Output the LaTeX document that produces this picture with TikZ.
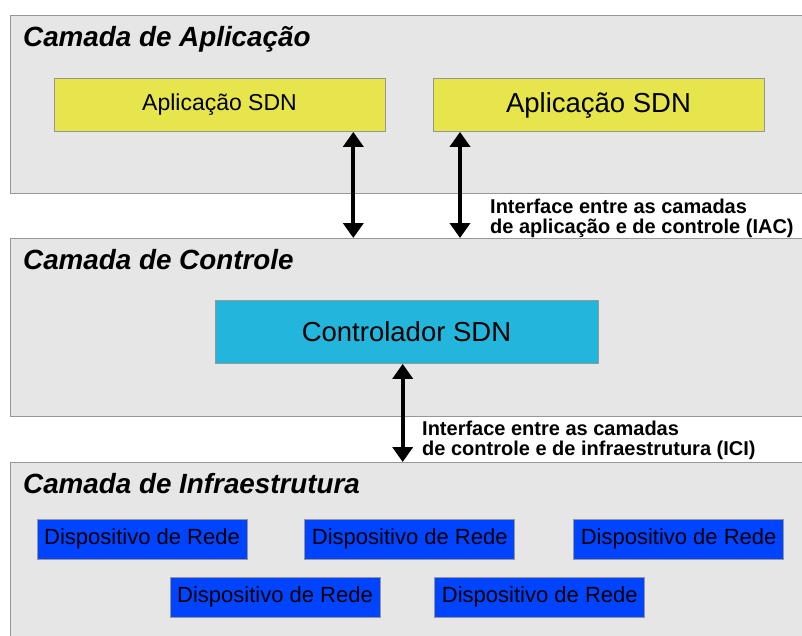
\documentclass[tikz,border=0pt]{standalone}
\usepackage{fontspec}
\setmainfont{Liberation Sans}
\usetikzlibrary{arrows.meta, positioning}
\usepackage{xcolor}
\definecolor{layerGray}{RGB}{230,230,230}
\definecolor{edgeGray} {RGB}{150,150,150}
\definecolor{appYellow}{RGB}{230,230,76}
\definecolor{ctrlCyan} {RGB}{35,182,220}
\definecolor{devBlue}  {RGB}{0,68,255}

\begin{document}
\begin{tikzpicture}[
  x=1pt, y=-1pt,
  node distance = 18pt and 57pt,
  layer/.style = {
    rectangle, anchor=north west, inner sep=0pt,
    draw=edgeGray, fill=layerGray, line width=1pt,
    minimum width=830pt
  },
  layertitle/.style = {
    anchor=base west, inner sep=0pt,
    font=\fontsize{27.8}{30}\selectfont\bfseries\itshape
  },
  box/.style = {rectangle, inner sep=0pt, draw=edgeGray, line width=0.8pt},
  appbox/.style = {box, fill=appYellow, minimum width=331pt, minimum height=53pt},
  devbox/.style = {
    box, fill=devBlue, minimum width=210pt, minimum height=40pt,
    font=\fontsize{22}{24}\selectfont
  },
  iface/.style = {
    anchor=north west, inner sep=0pt, align=left,
    font=\fontsize{20}{20}\selectfont\bfseries
  },
  biarr/.style = {
    {Triangle[length=15pt,width=20pt]}-{Triangle[length=15pt,width=20pt]},
    line width=4pt
  }
]
  \clip (0,0) rectangle (802,635);

  % the three layers
  \node[layer, minimum height=178pt] (applayer)   at (10,15)  {};
  \node[layer, minimum height=178pt] (ctrllayer)  at (10,238) {};
  \node[layer, minimum height=200pt] (infralayer) at (10,462) {};

  \node[layertitle] (apptitle)   at (23,46)  {Camada de Aplicação};
  \node[layertitle] (ctrltitle)  at (23,269) {Camada de Controle};
  \node[layertitle] (infratitle) at (23,493) {Camada de Infraestrutura};

  % application layer
  \node[appbox, font=\fontsize{23}{26}\selectfont]   (app1) at (219.5,105) {Aplicação SDN};
  \node[appbox, font=\fontsize{27.5}{30}\selectfont] (app2) at (598.5,105) {Aplicação SDN};

  % control layer
  \node[box, fill=ctrlCyan, minimum width=383pt, minimum height=63pt,
        font=\fontsize{27.5}{30}\selectfont] (ctrl) at (406.5,332) {Controlador SDN};

  % infrastructure layer
  \node[devbox] (dev1) at (142,539) {Dispositivo de Rede};
  \node[devbox, right=of dev1] (dev2) {Dispositivo de Rede};
  \node[devbox, right=58pt of dev2] (dev3) {Dispositivo de Rede};
  \node[devbox] (dev4) at (275,597) {Dispositivo de Rede};
  \node[devbox, right=54pt of dev4] (dev5) {Dispositivo de Rede};

  % interfaces between layers
  \coordinate (a1) at ([xshift=133.8pt]app1.south);
  \coordinate (a2) at ([xshift=-138.5pt]app2.south);
  \coordinate (a3) at ([xshift=-3.8pt]ctrl.south);
  \draw[biarr] (a1) -- (a1 |- ctrllayer.north);
  \draw[biarr] (a2) -- (a2 |- ctrllayer.north);
  \draw[biarr] (a3) -- (a3 |- infralayer.north);

  \node[iface] (iac) at (490,199) {Interface entre as camadas\\de aplicação e de controle (IAC)};
  \node[iface] (ici) at (422,421) {Interface entre as camadas\\de controle e de infraestrutura (ICI)};
\end{tikzpicture}
\end{document}
